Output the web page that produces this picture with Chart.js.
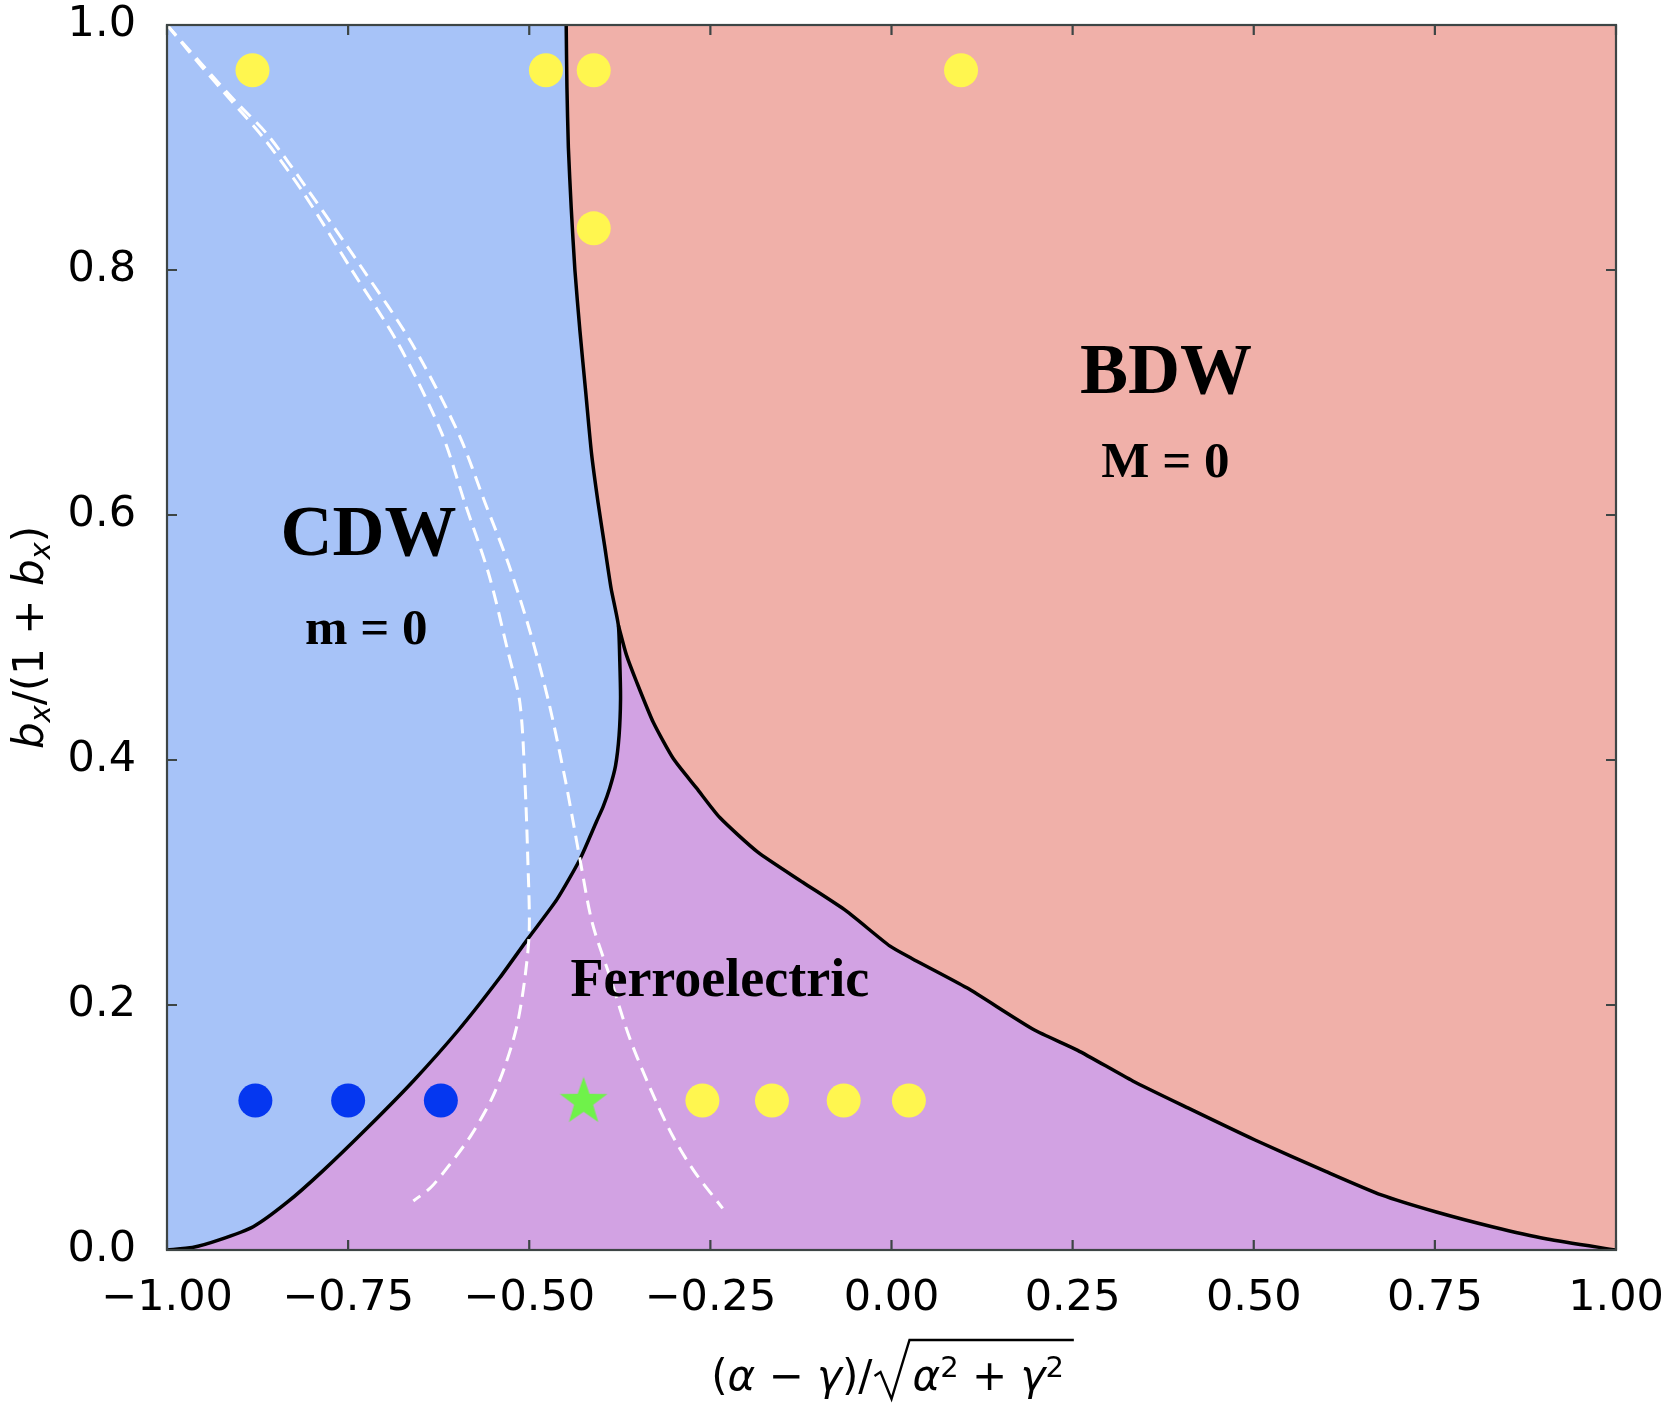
<!DOCTYPE html>
<html>
<head>
  <title>Phase diagram</title>
  <script src="https://cdn.jsdelivr.net/npm/chart.js"></script>
  <style>
    body { margin: 0; background: #fff; }
  </style>
</head>
<body>
  <canvas id="chart" width="1668" height="1406"></canvas>

  <script>
    // [x, y] with x = (a - g)/sqrt(a^2 + g^2), y = bx/(1 + bx)
    const cdwBdwLine = [
      [-0.449, 1.000], [-0.448, 0.950], [-0.446, 0.900], [-0.442, 0.850], [-0.437, 0.800],
      [-0.430, 0.750], [-0.422, 0.700], [-0.414, 0.650], [-0.405, 0.610], [-0.396, 0.575],
      [-0.387, 0.540], [-0.377, 0.510]
    ];
    const cdwFerroLine = [
      [-0.377, 0.510], [-0.375, 0.480], [-0.374, 0.450], [-0.376, 0.420], [-0.381, 0.395],
      [-0.389, 0.377], [-0.398, 0.362], [-0.407, 0.350], [-0.430, 0.319], [-0.462, 0.286],
      [-0.502, 0.254], [-0.541, 0.222], [-0.597, 0.180], [-0.660, 0.138], [-0.723, 0.100],
      [-0.786, 0.064], [-0.834, 0.039], [-0.881, 0.019], [-0.929, 0.008], [-0.965, 0.002],
      [-1.000, 0.000]
    ];
    const bdwFerroLine = [
      [-0.377, 0.510], [-0.366, 0.486], [-0.352, 0.464], [-0.329, 0.431], [-0.301, 0.401],
      [-0.269, 0.377], [-0.237, 0.353], [-0.185, 0.325], [-0.122, 0.300], [-0.063, 0.277],
      [-0.002, 0.248], [0.028, 0.238], [0.104, 0.214], [0.196, 0.180], [0.257, 0.163],
      [0.333, 0.138], [0.409, 0.116], [0.501, 0.090], [0.600, 0.064], [0.676, 0.045],
      [0.752, 0.031], [0.829, 0.019], [0.905, 0.009], [1.000, 0.000]
    ];
    const dashLeft = [
      [-1.000, 1.000], [-0.955, 0.968], [-0.911, 0.938], [-0.867, 0.908], [-0.814, 0.865],
      [-0.745, 0.800], [-0.681, 0.740], [-0.621, 0.667], [-0.589, 0.610], [-0.556, 0.552],
      [-0.530, 0.490], [-0.513, 0.447], [-0.506, 0.383], [-0.502, 0.319], [-0.500, 0.261],
      [-0.506, 0.222], [-0.517, 0.183], [-0.533, 0.151], [-0.553, 0.122], [-0.581, 0.093],
      [-0.612, 0.068], [-0.636, 0.051], [-0.660, 0.040]
    ];
    const dashRight = [
      [-1.000, 1.000], [-0.952, 0.968], [-0.906, 0.938], [-0.862, 0.911], [-0.805, 0.865],
      [-0.729, 0.800], [-0.662, 0.740], [-0.598, 0.667], [-0.561, 0.610], [-0.528, 0.559],
      [-0.497, 0.501], [-0.473, 0.447], [-0.450, 0.383], [-0.430, 0.319], [-0.413, 0.267],
      [-0.388, 0.222], [-0.362, 0.174], [-0.333, 0.132], [-0.302, 0.093], [-0.272, 0.064],
      [-0.233, 0.034]
    ];
    const yellowPoints = [
      [-0.882, 0.963], [-0.477, 0.963], [-0.411, 0.963], [0.096, 0.963], [-0.411, 0.834],
      [-0.261, 0.122], [-0.165, 0.122], [-0.066, 0.122], [0.024, 0.122]
    ];
    const bluePoints = [[-0.878, 0.122], [-0.750, 0.122], [-0.622, 0.122]];
    const starPoints = [[-0.425, 0.121]];

    const xTicks = [-1, -0.75, -0.5, -0.25, 0, 0.25, 0.5, 0.75, 1];
    const yTicks = [0, 0.2, 0.4, 0.6, 0.8, 1];

    const phaseLabels = [['CDW', -0.722, 0.567], ['BDW', 0.379, 0.700]];
    const orderLabels = [['m = 0', -0.725, 0.495], ['M = 0', 0.378, 0.631]];
    const ferroLabel = ['Ferroelectric', -0.237, 0.2075];

    const xMin = -1, xMax = 1, yMax = 1;
    const pts = arr => arr.map(([x, y]) => ({x, y}));
    const rev = arr => arr.slice().reverse();

    const ferroRegion = [...rev(cdwFerroLine), ...bdwFerroLine.slice(1)];
    const cdwRegion = [...rev(cdwFerroLine), ...rev(cdwBdwLine).slice(1), [xMin, yMax]];
    const bdwRegion = [...cdwBdwLine, ...bdwFerroLine.slice(1), [xMax, yMax]];

    function makeStar(R, color) {
      const c = document.createElement('canvas');
      c.width = c.height = Math.ceil(2 * R + 4);
      const g = c.getContext('2d');
      const cx = c.width / 2, cy = c.height / 2;
      g.beginPath();
      for (let i = 0; i < 10; i++) {
        const r = i % 2 ? R * 0.4 : R;
        const a = -Math.PI / 2 + i * Math.PI / 5;
        g.lineTo(cx + r * Math.cos(a), cy + r * Math.sin(a));
      }
      g.closePath();
      g.fillStyle = color;
      g.fill();
      return c;
    }

    const region = (label, data, color, order) => ({
      label, data: pts(data), fill: 'shape', backgroundColor: color,
      borderWidth: 0, pointRadius: 0, tension: 0, order
    });
    const boundary = (label, data) => ({
      label, data: pts(data), borderColor: '#000', borderWidth: 3.5, fill: false,
      pointRadius: 0, tension: 0.2, order: 5
    });
    const dashed = (label, data) => ({
      label, data: pts(data), borderColor: '#fff', borderWidth: 3, borderDash: [14, 8],
      fill: false, pointRadius: 0, tension: 0.3, order: 4
    });
    const markers = (label, data, color, extra) => Object.assign({
      label, data: pts(data), showLine: false, pointRadius: 17,
      pointBackgroundColor: color, pointBorderWidth: 0, pointBorderColor: 'rgba(0,0,0,0)', order: 1
    }, extra || {});

    const fmt = (v, d) => (v < 0 ? '\u2212' : '') + Math.abs(v).toFixed(d);

    function drawRuns(ctx, runs, x, base) {
      runs.forEach(([t, font, dy]) => {
        ctx.font = font;
        ctx.fillText(t, x, base + (dy || 0));
        x += ctx.measureText(t).width;
      });
      return x;
    }
    function runsWidth(ctx, runs) {
      return runs.reduce((w, [t, font]) => { ctx.font = font; return w + ctx.measureText(t).width; }, 0);
    }

    const decor = {
      id: 'decor',
      afterDatasetsDraw(chart) {
        const {ctx, chartArea: a, scales: {x, y}} = chart;
        ctx.save();
        ctx.strokeStyle = '#3d4545';
        ctx.lineWidth = 2.2;
        ctx.strokeRect(a.left, a.top, a.right - a.left, a.bottom - a.top);
        ctx.beginPath();
        xTicks.forEach(v => {
          const p = x.getPixelForValue(v);
          ctx.moveTo(p, a.bottom); ctx.lineTo(p, a.bottom - 10);
          ctx.moveTo(p, a.top); ctx.lineTo(p, a.top + 10);
        });
        yTicks.forEach(v => {
          const p = y.getPixelForValue(v);
          ctx.moveTo(a.left, p); ctx.lineTo(a.left + 10, p);
          ctx.moveTo(a.right, p); ctx.lineTo(a.right - 10, p);
        });
        ctx.stroke();

        ctx.fillStyle = '#000';
        ctx.textAlign = 'center';
        ctx.textBaseline = 'alphabetic';
        const serif = s => 'bold ' + s + 'px "Liberation Serif", "Times New Roman", serif';
        ctx.font = serif(72);
        phaseLabels.forEach(([t, vx, vy]) => ctx.fillText(t, x.getPixelForValue(vx), y.getPixelForValue(vy)));
        ctx.font = serif(51);
        orderLabels.forEach(([t, vx, vy]) => ctx.fillText(t, x.getPixelForValue(vx), y.getPixelForValue(vy)));
        ctx.font = serif(54);
        ctx.fillText(ferroLabel[0], x.getPixelForValue(ferroLabel[1]), y.getPixelForValue(ferroLabel[2]));
        ctx.restore();
      },
      afterDraw(chart) {
        const {ctx, chartArea: a} = chart;
        const up = '42px "DejaVu Sans"', it = 'italic 42px "DejaVu Sans"', small = '29px "DejaVu Sans"',
              smallIt = 'italic 29px "DejaVu Sans"';
        ctx.save();
        ctx.fillStyle = '#000';
        ctx.strokeStyle = '#000';
        ctx.textAlign = 'left';
        ctx.textBaseline = 'alphabetic';

        // x title: (α − γ)/√(α² + γ²)
        const left = [['(', up], ['α', it], [' \u2212 ', up], ['γ', it], [')', up], ['/', up]];
        const under = [['α', it], ['2', small, -13], [' + ', up], ['γ', it], ['2', small, -13]];
        const radW = 40;
        const total = runsWidth(ctx, left) + radW + runsWidth(ctx, under) + 8;
        const base = 1390;
        let cx = (a.left + a.right) / 2 - total / 2;
        cx = drawRuns(ctx, left, cx, base);
        const r0 = cx + 2;
        const end = drawRuns(ctx, under, cx + radW, base);
        ctx.lineWidth = 2.4;
        ctx.beginPath();
        ctx.moveTo(r0, base - 14);
        ctx.lineTo(r0 + 6, base - 18);
        ctx.lineTo(r0 + 17, base + 9);
        ctx.lineTo(r0 + 35, base - 50);
        ctx.lineTo(end + 10, base - 50);
        ctx.stroke();

        // y title: b_x/(1 + b_x)
        const yRuns = [['b', it], ['x', smallIt, 7], ['/(1 + ', up], ['b', it], ['x', smallIt, 7], [')', up]];
        const yw = runsWidth(ctx, yRuns);
        ctx.translate(43, (a.top + a.bottom) / 2);
        ctx.rotate(-Math.PI / 2);
        drawRuns(ctx, yRuns, -yw / 2, 0);
        ctx.restore();
      }
    };

    new Chart(document.getElementById('chart').getContext('2d'), {
      type: 'line',
      data: {
        datasets: [
          region('Ferroelectric', ferroRegion, '#d2a2e3', 12),
          region('CDW', cdwRegion, '#a7c3f8', 11),
          region('BDW', bdwRegion, '#f0b0a9', 10),
          boundary('CDW boundary', [...cdwBdwLine, ...cdwFerroLine.slice(1)]),
          boundary('BDW / Ferroelectric boundary', bdwFerroLine),
          dashed('dashed 1', dashLeft),
          dashed('dashed 2', dashRight),
          markers('yellow', yellowPoints, '#fff64f'),
          markers('blue', bluePoints, '#0537f0'),
          markers('star', starPoints, '#6ff24a', { pointStyle: makeStar(25, '#6ff24a'), pointRadius: 25, order: 0 })
        ]
      },
      options: {
        responsive: false,
        animation: false,
        layout: { padding: { top: 21, right: 52, bottom: 0, left: 0 } },
        plugins: { legend: { display: false }, tooltip: { enabled: false } },
        scales: {
          x: {
            type: 'linear', min: -1, max: 1,
            afterBuildTicks: s => { s.ticks = xTicks.map(v => ({ value: v })); },
            ticks: {
              font: { family: 'DejaVu Sans', size: 43 }, color: '#000', padding: 23,
              maxRotation: 0, autoSkip: false, callback: v => fmt(v, 2)
            },
            grid: { display: false, drawTicks: false },
            border: { display: false },
            afterFit: s => { s.height = 156; s.paddingLeft = s.paddingRight = 0; }
          },
          y: {
            type: 'linear', min: 0, max: 1,
            afterBuildTicks: s => { s.ticks = yTicks.map(v => ({ value: v })); },
            ticks: {
              font: { family: 'DejaVu Sans', size: 43 }, color: '#000', padding: 31,
              autoSkip: false, callback: v => fmt(v, 1)
            },
            grid: { display: false, drawTicks: false },
            border: { display: false },
            afterFit: s => { s.width = 167; s.paddingTop = s.paddingBottom = 0; }
          }
        }
      },
      plugins: [decor]
    });
  </script>
</body>
</html>
